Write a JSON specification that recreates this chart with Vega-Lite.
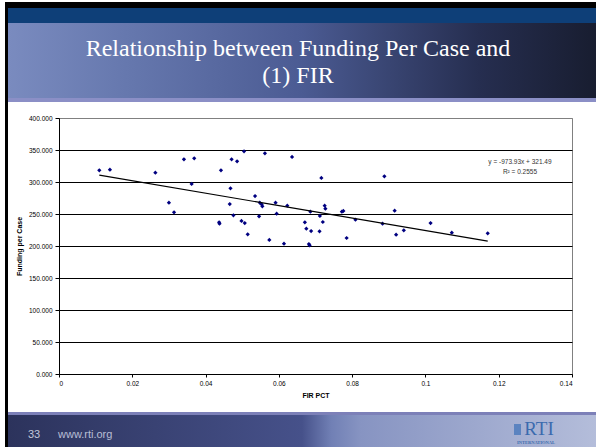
{
  "$schema": "https://vega.github.io/schema/vega-lite/v6.json",
  "width": 513,
  "height": 256,
  "autosize": {"type": "none"},
  "padding": {"left": 59, "top": 118, "right": 24, "bottom": 73},
  "background": "#ffffff",
  "config": {
    "view": {"stroke": "#808080", "strokeWidth": 1},
    "axis": {
      "labelFont": "Liberation Sans",
      "labelFontSize": 6.5,
      "labelColor": "#000000",
      "titleFont": "Liberation Sans",
      "titleFontSize": 7,
      "titleFontWeight": "bold",
      "titleColor": "#000000",
      "domainColor": "#000000",
      "tickColor": "#000000"
    }
  },
  "datasets": {
    "points": [
      {"fir": 0.0110, "funding": 318.3}, {"fir": 0.0139, "funding": 319.2},
      {"fir": 0.0263, "funding": 314.5}, {"fir": 0.0300, "funding": 267.7},
      {"fir": 0.0314, "funding": 252.7}, {"fir": 0.0341, "funding": 335.5},
      {"fir": 0.0362, "funding": 296.9}, {"fir": 0.0369, "funding": 337.0},
      {"fir": 0.0442, "funding": 318.3}, {"fir": 0.0437, "funding": 237.0},
      {"fir": 0.0438, "funding": 234.8}, {"fir": 0.0466, "funding": 265.6},
      {"fir": 0.0468, "funding": 290.2}, {"fir": 0.0471, "funding": 335.5},
      {"fir": 0.0476, "funding": 248.0}, {"fir": 0.0486, "funding": 332.3},
      {"fir": 0.0498, "funding": 239.1}, {"fir": 0.0505, "funding": 348.0},
      {"fir": 0.0507, "funding": 235.9}, {"fir": 0.0515, "funding": 218.3},
      {"fir": 0.0535, "funding": 278.1}, {"fir": 0.0548, "funding": 267.7},
      {"fir": 0.0546, "funding": 246.4}, {"fir": 0.0553, "funding": 265.2},
      {"fir": 0.0555, "funding": 262.0}, {"fir": 0.0562, "funding": 344.8},
      {"fir": 0.0574, "funding": 209.4}, {"fir": 0.0591, "funding": 267.7},
      {"fir": 0.0594, "funding": 250.5}, {"fir": 0.0614, "funding": 203.6},
      {"fir": 0.0623, "funding": 263.0}, {"fir": 0.0636, "funding": 339.1},
      {"fir": 0.0671, "funding": 237.0}, {"fir": 0.0675, "funding": 227.0},
      {"fir": 0.0682, "funding": 203.1}, {"fir": 0.0684, "funding": 201.1},
      {"fir": 0.0686, "funding": 253.6}, {"fir": 0.0688, "funding": 223.4},
      {"fir": 0.0711, "funding": 223.0}, {"fir": 0.0712, "funding": 246.9},
      {"fir": 0.0716, "funding": 306.3}, {"fir": 0.0720, "funding": 237.5},
      {"fir": 0.0725, "funding": 263.0}, {"fir": 0.0727, "funding": 258.3},
      {"fir": 0.0772, "funding": 253.6}, {"fir": 0.0776, "funding": 254.7},
      {"fir": 0.0785, "funding": 212.5}, {"fir": 0.0809, "funding": 241.1},
      {"fir": 0.0883, "funding": 234.8}, {"fir": 0.0888, "funding": 308.9},
      {"fir": 0.0916, "funding": 255.2}, {"fir": 0.0920, "funding": 217.7},
      {"fir": 0.0941, "funding": 224.5}, {"fir": 0.1014, "funding": 235.9},
      {"fir": 0.1072, "funding": 220.8}, {"fir": 0.1170, "funding": 219.8}
    ],
    "trend": [
      {"fir": 0.011, "funding": 310.78},
      {"fir": 0.117, "funding": 207.54}
    ],
    "equation": [
      {"fir": 0.1258, "funding": 331.0, "label": "y = -973.93x + 321.49"},
      {"fir": 0.1258, "funding": 315.5, "label": "R² = 0.2555"}
    ]
  },
  "layer": [
    {
      "data": {"values": [{}]},
      "mark": {"type": "rect", "x": -51, "x2": 537, "y": -110, "y2": -20, "clip": false,
        "color": {"gradient": "linear", "x1": 0, "x2": 1, "y1": 0, "y2": 0,
          "stops": [
            {"offset": 0, "color": "#7a8bbf"},
            {"offset": 0.2, "color": "#6678ae"},
            {"offset": 0.5, "color": "#4b5b93"},
            {"offset": 0.8, "color": "#262e50"},
            {"offset": 1, "color": "#181d30"}
          ]}},
      "encoding": {}
    },
    {
      "data": {"values": [{}]},
      "mark": {"type": "rect", "x": -51, "x2": 537, "y": -110, "y2": -95, "clip": false, "color": "#0e3f78"},
      "encoding": {}
    },
    {
      "data": {"values": [{}]},
      "mark": {"type": "rect", "x": -51, "x2": 537, "y": -20, "y2": -16, "clip": false, "color": "#8b8fc6"},
      "encoding": {}
    },
    {
      "data": {"values": [{}]},
      "mark": {"type": "rect", "x": -54, "x2": 537, "y": -116, "y2": -110, "clip": false, "color": "#000000"},
      "encoding": {}
    },
    {
      "data": {"values": [{}]},
      "mark": {"type": "rect", "x": -51, "x2": 537, "y": 294, "y2": 297, "clip": false, "color": "#7c80b8"},
      "encoding": {}
    },
    {
      "data": {"values": [{}]},
      "mark": {"type": "rect", "x": -51, "x2": 537, "y": 297, "y2": 329, "clip": false,
        "color": {"gradient": "linear", "x1": 0, "x2": 1, "y1": 0, "y2": 0,
          "stops": [
            {"offset": 0, "color": "#2c335c"},
            {"offset": 0.5, "color": "#46518a"},
            {"offset": 0.55, "color": "#7180b5"},
            {"offset": 0.6, "color": "#8794c2"},
            {"offset": 1, "color": "#b4bdda"}
          ]}},
      "encoding": {}
    },
    {
      "data": {"values": [{}]},
      "mark": {"type": "rect", "x": -54, "x2": -51, "y": -116, "y2": 329, "clip": false, "color": "#000000"},
      "encoding": {}
    },
    {
      "data": {"values": [{"line1": "Relationship between Funding Per Case and", "line2": "(1) FIR"}]},
      "mark": {"type": "text", "x": 239, "y": -62, "align": "center", "baseline": "alphabetic",
        "font": "Liberation Serif", "fontSize": 24, "color": "#ffffff", "lineHeight": 27, "clip": false},
      "encoding": {"text": {"value": ["Relationship between Funding Per Case and", "(1) FIR"]}}
    },
    {
      "data": {"values": [{"t": "33"}]},
      "mark": {"type": "text", "x": -31, "y": 320, "align": "left", "baseline": "alphabetic",
        "font": "Liberation Sans", "fontSize": 11, "color": "#c3c7da", "clip": false},
      "encoding": {"text": {"field": "t"}}
    },
    {
      "data": {"values": [{"t": "www.rti.org"}]},
      "mark": {"type": "text", "x": -1, "y": 320, "align": "left", "baseline": "alphabetic",
        "font": "Liberation Sans", "fontSize": 11, "color": "#b9bed5", "clip": false},
      "encoding": {"text": {"field": "t"}}
    },
    {
      "data": {"values": [{}]},
      "mark": {"type": "rect", "x": 455, "x2": 462, "y": 306, "y2": 317, "clip": false, "color": "#5b83c0"},
      "encoding": {}
    },
    {
      "data": {"values": [{"t": "RTI"}]},
      "mark": {"type": "text", "x": 480, "y": 317, "align": "center", "baseline": "alphabetic",
        "font": "Liberation Serif", "fontSize": 19, "color": "#3a6aae", "clip": false},
      "encoding": {"text": {"field": "t"}}
    },
    {
      "data": {"values": [{"t": "INTERNATIONAL"}]},
      "mark": {"type": "text", "x": 477, "y": 325.5, "align": "center", "baseline": "alphabetic",
        "font": "Liberation Serif", "fontSize": 4.5, "fontWeight": "bold", "color": "#3a6aae", "clip": false},
      "encoding": {"text": {"field": "t"}}
    },
    {
      "data": {"name": "points"},
      "mark": {"type": "point", "shape": "diamond", "filled": true, "size": 18, "color": "#000080", "opacity": 1},
      "encoding": {
        "x": {
          "field": "fir", "type": "quantitative",
          "scale": {"domain": [0, 0.14], "nice": false, "zero": true},
          "axis": {
            "values": [0, 0.02, 0.04, 0.06, 0.08, 0.1, 0.12, 0.14],
            "tickCount": 8,
            "format": "~g", "grid": false, "tickSize": 3, "labelPadding": 3,
            "title": "FIR PCT", "titleY": 21, "titleBaseline": "middle"
          }
        },
        "y": {
          "field": "funding", "type": "quantitative",
          "scale": {"domain": [0, 400], "nice": false},
          "axis": {
            "values": [0, 50, 100, 150, 200, 250, 300, 350, 400],
            "tickCount": 9,
            "format": ".3f", "grid": true,
            "gridColor": {"condition": {"test": "datum.value === 400", "value": "#808080"}, "value": "#000000"},
            "gridWidth": 1, "gridOpacity": 1,
            "tickSize": 4, "labelPadding": 3,
            "title": "Funding per Case", "titleX": -40, "titleY": 128,
            "titleAngle": 270, "titleAlign": "center", "titleBaseline": "middle"
          }
        }
      }
    },
    {
      "data": {"name": "trend"},
      "mark": {"type": "line", "color": "#000000", "strokeWidth": 1.2},
      "encoding": {
        "x": {"field": "fir", "type": "quantitative"},
        "y": {"field": "funding", "type": "quantitative"}
      }
    },
    {
      "data": {"name": "equation"},
      "mark": {"type": "text", "align": "center", "baseline": "middle", "font": "Liberation Sans", "fontSize": 6.5, "color": "#333333"},
      "encoding": {
        "x": {"field": "fir", "type": "quantitative"},
        "y": {"field": "funding", "type": "quantitative"},
        "text": {"field": "label"}
      }
    }
  ]
}
